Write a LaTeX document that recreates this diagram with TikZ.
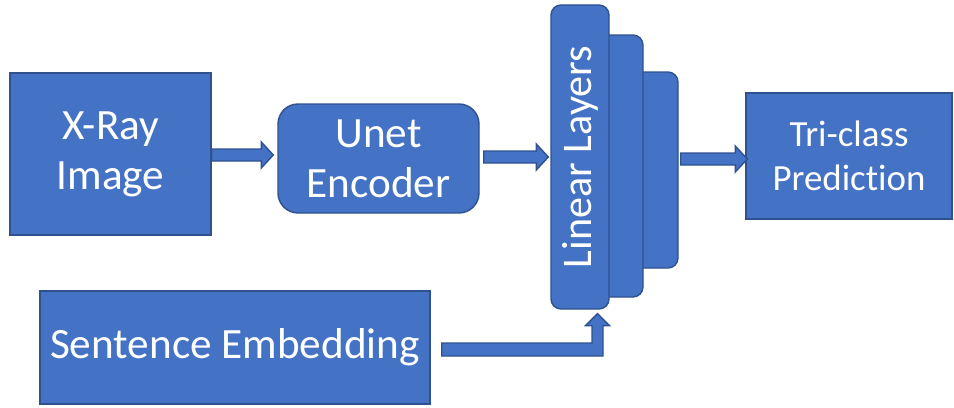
\documentclass[tikz,border=0pt]{standalone}
\usepackage{fontspec}
\setmainfont{Carlito}[Ligatures=NoCommon]
\usepackage{xcolor}
\usepackage{tikz}
\usetikzlibrary{calc}
\usetikzlibrary{positioning}

\definecolor{boxblue}{HTML}{4472C4}
\definecolor{edgeblue}{HTML}{2F528F}

% straight block arrow, y taken from the start point
\newcommand{\blockarrow}[2]{%
  \draw[arrowbody] let \p1=(#1), \p2=(#2) in
    (\x1,\y1+0.12cm) -- (\x2-0.24cm,\y1+0.12cm) -- (\x2-0.24cm,\y1+0.26cm)
    -- (\x2,\y1) -- (\x2-0.24cm,\y1-0.26cm) -- (\x2-0.24cm,\y1-0.12cm)
    -- (\x1,\y1-0.12cm) -- cycle;}

\begin{document}
\begin{tikzpicture}[
    blockbox/.style={rectangle, draw=edgeblue, fill=boxblue, line width=0.8pt,
        text=white, align=center, inner sep=+0pt,
        font=\fontsize{24.6}{28.5}\selectfont},
    roundbox/.style={blockbox, rounded corners=0.4cm},
    layerbox/.style={blockbox, rounded corners=0.2cm},
    arrowbody/.style={draw=edgeblue, fill=boxblue, line width=0.8pt}
    ]
\useasboundingbox (0,0) rectangle (19.08,-8.14);

% stacked layers, back to front
\node[layerbox, minimum width=0.96cm, minimum height=3.92cm] (lin3) at (13.08,-3.40) {};
\node[layerbox, minimum width=0.96cm, minimum height=5.24cm] (lin2) at (12.38,-3.32) {};
\node[layerbox, minimum width=1.16cm, minimum height=6.08cm, font=\fontsize{24}{28}\selectfont] (lin1) at (11.60,-3.14) {\rotatebox{90}{Linear Layers}};

\node[blockbox, minimum width=4.02cm, minimum height=3.24cm] (xray) at (2.21,-3.08) {X-Ray\\Image};
\node[roundbox, minimum width=4.02cm, minimum height=2.18cm] (unet) at (7.57,-3.17) {Unet\\Encoder};
\node[blockbox, minimum width=4.12cm, minimum height=2.52cm, font=\fontsize{21}{25}\selectfont] (tri) at (16.98,-3.12) {Tri-class\\Prediction};
\node[blockbox, minimum width=7.80cm, minimum height=2.26cm] (sent) at (4.70,-6.95) {Sentence Embedding};

% arrows between the blocks
\blockarrow{$(xray.east)+(0,-0.02)$}{$(unet.west)+(-0.08,0)$}
\blockarrow{$(unet.east)+(0.08,0.03)$}{$(lin1.west)+(-0.04,0)$}
\blockarrow{$(lin3.east)+(0.04,0.22)$}{$(tri.west)+(0.04,0)$}

% bent arrow from the embedding up into the layers
\draw[arrowbody] let \p1=($(sent.east)+(0.22,-0.04)$), \p2=($(lin1.south)+(0.35,-0.08)$) in
    (\x1,\y1+0.13cm) -- (\x2-0.11cm,\y1+0.13cm) -- (\x2-0.11cm,\y2-0.24cm)
    -- (\x2-0.24cm,\y2-0.24cm) -- (\x2,\y2) -- (\x2+0.24cm,\y2-0.24cm)
    -- (\x2+0.11cm,\y2-0.24cm) -- (\x2+0.11cm,\y1-0.13cm) -- (\x1,\y1-0.13cm) -- cycle;

\end{tikzpicture}
\end{document}
